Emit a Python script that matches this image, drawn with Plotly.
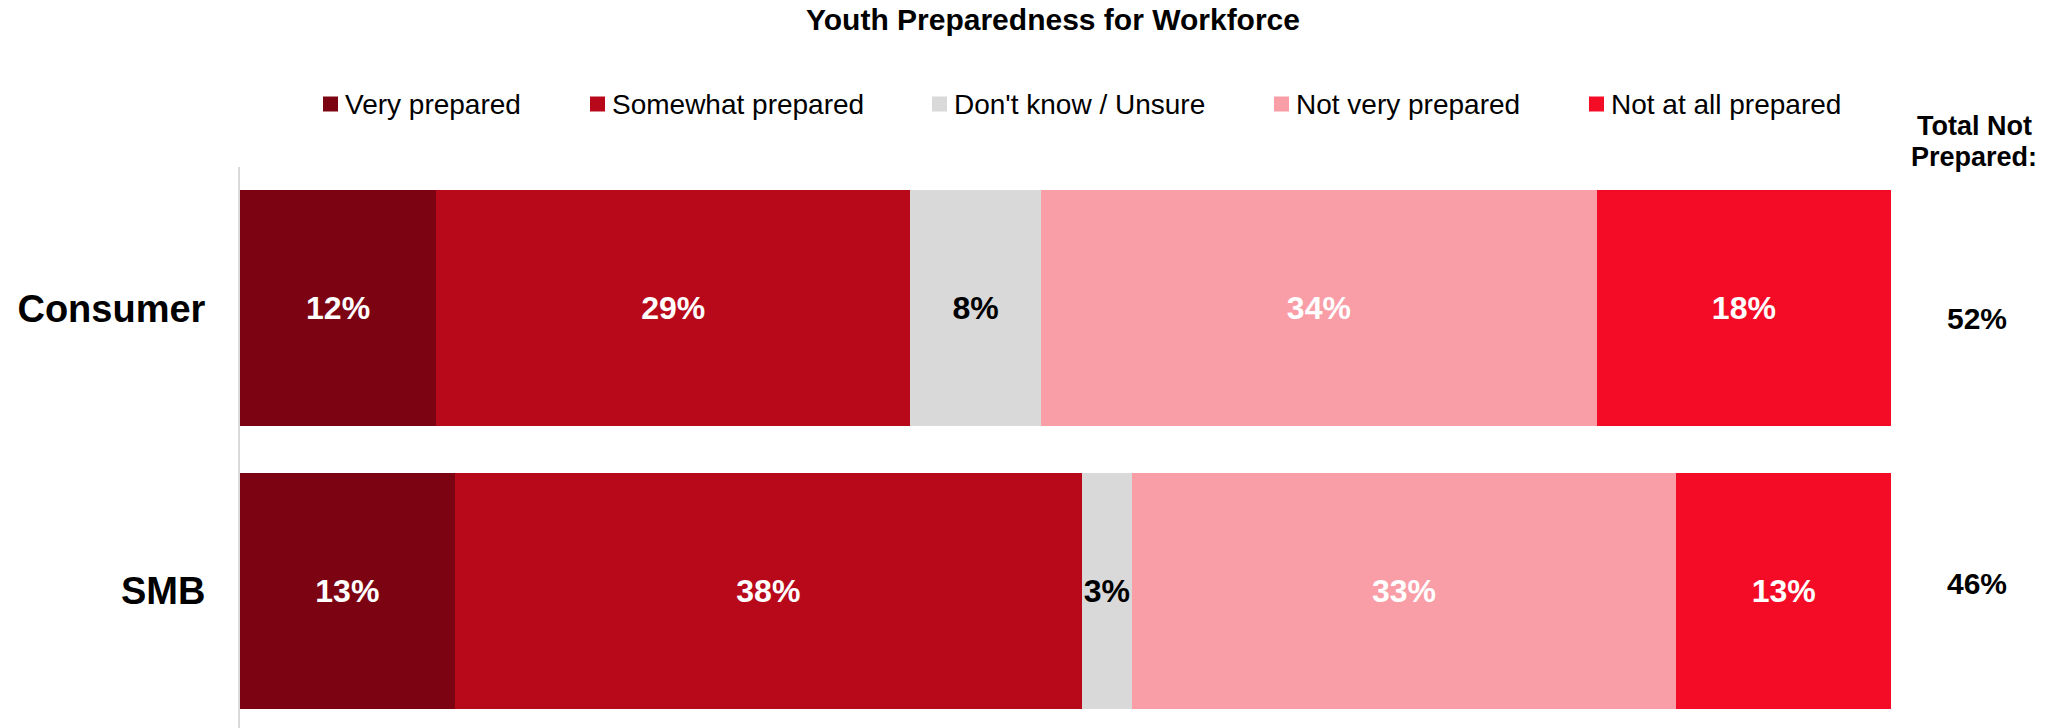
import plotly.graph_objects as go

# ---- data -------------------------------------------------------------
categories = ["Consumer", "SMB"]
series_names = [
    "Very prepared",
    "Somewhat prepared",
    "Don't know / Unsure",
    "Not very prepared",
    "Not at all prepared",
]
very_prepared = [12, 13]
somewhat_prepared = [29, 38]
dont_know = [8, 3]
not_very_prepared = [34, 33]
not_at_all_prepared = [18, 13]
series_values = [very_prepared, somewhat_prepared, dont_know,
                 not_very_prepared, not_at_all_prepared]
total_not_prepared = [a + b for a, b in zip(not_very_prepared, not_at_all_prepared)]

# ---- style ------------------------------------------------------------
colors = ["#7C0412", "#B8091B", "#D9D9D9", "#F99DA6", "#F40C27"]
label_colors = ["white", "white", "black", "white", "white"]
FONT = "Liberation Sans, Arial, Helvetica, sans-serif"

W, H = 2054, 728
M_L, M_R, M_T, M_B = 240, 163, 167, 0
PW, PH = W - M_L - M_R, H - M_T - M_B


def px_x(px):
    return (px - M_L) / PW


def px_y(py):
    return (H - M_B - py) / PH


fig = go.Figure()
for name, vals, col, tcol in zip(series_names, series_values, colors, label_colors):
    fig.add_trace(go.Bar(
        y=categories,
        x=vals,
        name=name,
        orientation="h",
        marker=dict(color=col, line=dict(width=0)),
        text=[f"{v}%" for v in vals],
        textposition="inside",
        insidetextanchor="middle",
        textangle=0,
        constraintext="none",
        textfont=dict(family=FONT, size=32, color=tcol, weight="bold"),
        showlegend=False,
    ))

# ---- legend row (key squares + labels) --------------------------------
legend_left_px = [323, 590, 932, 1274, 1589]
legend_cy = 104
sq = 15
shapes = []
annotations = []
for name, col, x0 in zip(series_names, colors, legend_left_px):
    shapes.append(dict(
        type="rect", xref="paper", yref="paper",
        x0=px_x(x0), x1=px_x(x0 + sq),
        y0=px_y(legend_cy + sq / 2), y1=px_y(legend_cy - sq / 2),
        fillcolor=col, line=dict(width=0),
    ))
    annotations.append(dict(
        text=name, xref="paper", yref="paper",
        x=px_x(x0 + sq + 5), y=px_y(legend_cy),
        xanchor="left", yanchor="middle", showarrow=False,
        font=dict(family=FONT, size=28, color="#000000"),
    ))

# ---- "Total Not Prepared" column --------------------------------------
total_cx = 1974
annotations.append(dict(
    text="Total Not", xref="paper", yref="paper",
    x=px_x(total_cx), y=px_y(126), xanchor="center", yanchor="middle",
    showarrow=False, font=dict(family=FONT, size=27, color="#000000", weight="bold"),
))
annotations.append(dict(
    text="Prepared:", xref="paper", yref="paper",
    x=px_x(total_cx), y=px_y(157), xanchor="center", yanchor="middle",
    showarrow=False, font=dict(family=FONT, size=27, color="#000000", weight="bold"),
))
for cat, tot, shift in zip(categories, total_not_prepared, [-10, 7]):
    annotations.append(dict(
        text=f"{tot}%", xref="paper", yref="y",
        x=px_x(1977), y=cat, yshift=shift,
        xanchor="center", yanchor="middle", showarrow=False,
        font=dict(family=FONT, size=30, color="#000000", weight="bold"),
    ))

fig.update_layout(
    width=W, height=H,
    margin=dict(l=M_L, r=M_R, t=M_T, b=M_B, pad=0),
    paper_bgcolor="white", plot_bgcolor="white",
    barmode="stack", barnorm="percent", bargap=0.166,
    title=dict(
        text="Youth Preparedness for Workforce",
        x=1053 / W, xanchor="center", xref="container",
        y=1 - 19 / H, yanchor="middle", yref="container",
        font=dict(family=FONT, size=30, color="#000000", weight="bold"),
    ),
    xaxis=dict(visible=False, range=[0, 100], fixedrange=True),
    yaxis=dict(
        categoryorder="array", categoryarray=categories,
        range=[1.485, -0.5], autorange=False,
        showline=True, linecolor="#D9D9D9", linewidth=2,
        showgrid=False, zeroline=False, ticks="",
        ticklabelstandoff=25,
        tickfont=dict(family=FONT, size=38, color="#000000", weight="bold"),
    ),
    shapes=shapes,
    annotations=annotations,
    showlegend=False,
)

fig.write_html("out.html")
